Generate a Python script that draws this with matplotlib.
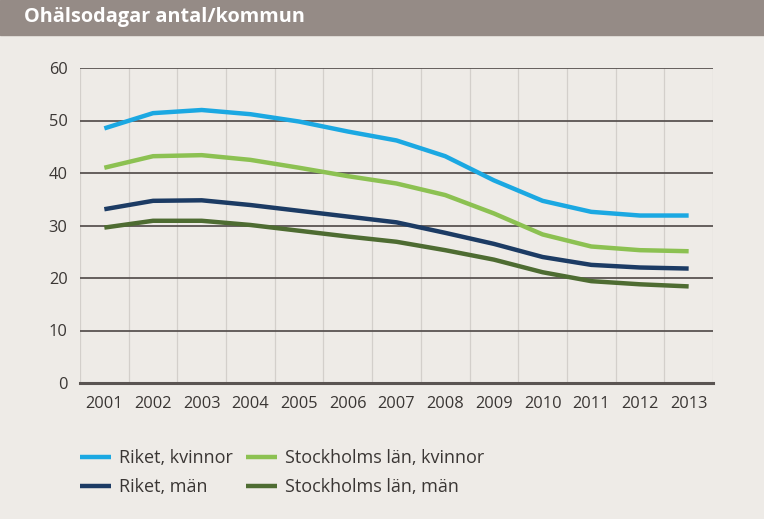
import matplotlib.pyplot as plt
import numpy as np

plt.rcParams['font.family'] = ['Open Sans', 'DejaVu Sans']

years = ['2001', '2002', '2003', '2004', '2005', '2006', '2007',
         '2008', '2009', '2010', '2011', '2012', '2013']
riket_kvinnor = [48.5, 51.4, 52.0, 51.2, 49.8, 47.9, 46.2, 43.2, 38.6, 34.7, 32.6, 31.9, 31.9]
sthlm_kvinnor = [41.0, 43.2, 43.4, 42.5, 41.0, 39.4, 38.0, 35.8, 32.3, 28.3, 26.0, 25.3, 25.1]
riket_man = [33.1, 34.7, 34.8, 33.9, 32.8, 31.7, 30.6, 28.6, 26.5, 24.0, 22.5, 22.0, 21.8]
sthlm_man = [29.6, 30.9, 30.9, 30.1, 29.0, 27.9, 26.9, 25.3, 23.5, 21.1, 19.4, 18.8, 18.4]

series = [
    ('Riket, kvinnor', riket_kvinnor, '#1ba8e2'),
    ('Stockholms län, kvinnor', sthlm_kvinnor, '#8cc152'),
    ('Riket, män', riket_man, '#1c3b64'),
    ('Stockholms län, män', sthlm_man, '#4e6c32'),
]

bg = '#eeebe7'
fig = plt.figure(figsize=(7.64, 5.19), dpi=100, facecolor=bg)

# title bar
fig.patches.append(plt.Rectangle((0, 1 - 35 / 519), 1, 35 / 519, transform=fig.transFigure,
                                 color='#958b86', zorder=0))
fig.text(24 / 764, 1 - 17 / 519, 'Ohälsodagar antal/kommun', color='white',
         fontsize=14.3, fontweight='bold', va='center', ha='left')

ax = fig.add_axes([80 / 764, 1 - 383 / 519, 633 / 764, 315 / 519])
ax.set_facecolor(bg)

x = np.arange(len(years))
lines = {}
for name, vals, col in series:
    lines[name], = ax.plot(x, vals, color=col, lw=3.2, solid_capstyle='butt', zorder=3, label=name)

ax.set_xlim(-0.5, len(years) - 0.5)
ax.set_ylim(0, 60)
ax.set_yticks(range(0, 61, 10))
ax.set_xticks(x)
ax.set_xticklabels(years)
ax.set_xticks(np.arange(-0.5, len(years), 1), minor=True)

ax.grid(axis='y', which='major', color='#5a5452', lw=1.3, zorder=1)
ax.grid(axis='x', which='minor', color='#d3cfcb', lw=0.9, zorder=1)
ax.grid(axis='x', which='major', visible=False)
for s in ['top', 'right', 'left']:
    ax.spines[s].set_visible(False)
ax.spines['bottom'].set_color('#5a5452')
ax.spines['bottom'].set_linewidth(2.2)
ax.tick_params(which='both', length=0, labelsize=11.8, colors='#3a3634')
ax.tick_params(axis='y', pad=9)
ax.tick_params(axis='x', pad=9)

order = ['Riket, kvinnor', 'Riket, män', 'Stockholms län, kvinnor', 'Stockholms län, män']
fig.legend([lines[n] for n in order], order, ncol=2, loc='upper left',
           bbox_to_anchor=(71 / 764, 1 - 440 / 519), frameon=False, fontsize=13,
           borderpad=0, handlelength=1.7, handletextpad=0.45, columnspacing=0.75,
           labelspacing=0.6, labelcolor='#3a3634')

fig.savefig('out.png', dpi=100, facecolor=bg)
